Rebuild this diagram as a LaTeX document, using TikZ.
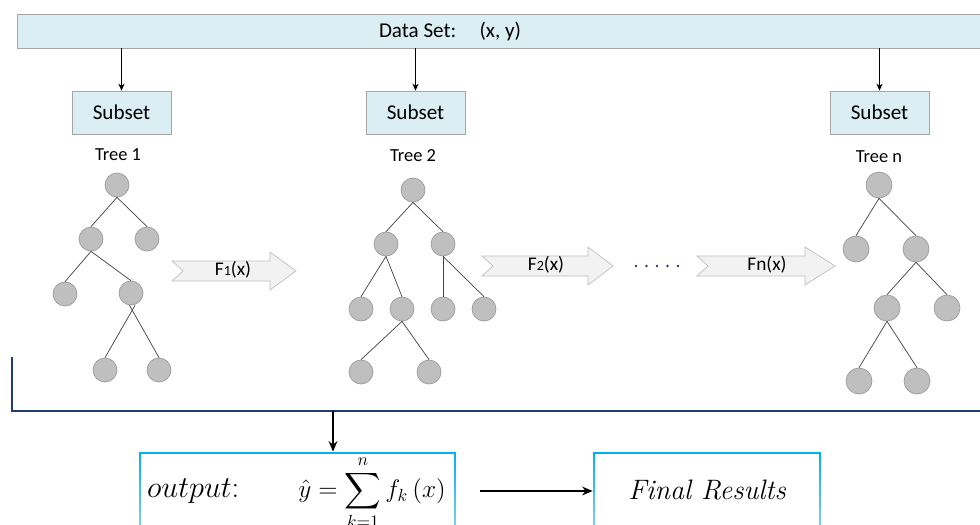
\documentclass[tikz,border=0pt]{standalone}
\usepackage{amsmath}
\usepackage{fontspec}
\newfontfamily\calibri{Carlito}
\usetikzlibrary{arrows.meta}

\definecolor{barblue}{HTML}{DAEEF3}
\definecolor{boxgray}{HTML}{A6A6A6}
\definecolor{nodegray}{HTML}{BFBFBF}
\definecolor{nodeline}{HTML}{9C9C9C}
\definecolor{arrowfill}{HTML}{F2F2F2}
\definecolor{arrowline}{HTML}{BFBFBF}
\definecolor{navy}{HTML}{1F3B7A}
\definecolor{cyanline}{HTML}{00B0F0}
\definecolor{cyanpale}{HTML}{B7DDE8}

\tikzset{
  treenode/.style={circle, draw=nodeline, fill=nodegray, inner sep=0pt, minimum size=0.48cm},
  bignode/.style={treenode, minimum size=0.52cm},
  databar/.style={draw=boxgray, fill=barblue, minimum width=19.66cm, minimum height=0.68cm},
  subsetbox/.style={draw=boxgray, fill=barblue, minimum width=1.98cm, minimum height=0.86cm,
    font=\calibri\fontsize{12}{14}\selectfont},
  treelabel/.style={font=\calibri\fontsize{10.5}{12}\selectfont},
  calitext/.style={font=\calibri\fontsize{11}{13}\selectfont},
  edge/.style={draw=black!75, line width=0.4pt},
  feed/.style={-{Stealth[length=4pt,width=3.5pt]}, line width=0.4pt},
  bigarrow/.style={-{Stealth[length=6pt,width=5pt]}, line width=0.9pt},
  blockarrow/.style={draw=arrowline, fill=arrowfill, line width=0.4pt},
  resultbox/.style={minimum height=2.16cm, inner sep=0pt,
    path picture={
      \shade[top color=cyanline, bottom color=cyanpale]
        (path picture bounding box.south west) rectangle (path picture bounding box.north east);
      \fill[white]
        ([shift={(1.3pt,-1.3pt)}]path picture bounding box.north west) rectangle
        ([shift={(-1.3pt,1.3pt)}]path picture bounding box.south east);
    }},
}

% block arrow: tail x, head x, tip x, middle y
\newcommand{\blockarr}[4]{%
  \draw[blockarrow] (#1,#4-10) -- (#2,#4-10) -- (#2,#4-19) -- (#3,#4)
    -- (#2,#4+19) -- (#2,#4+10) -- (#1,#4+10) -- (#1+11,#4) -- cycle;}

\begin{document}
\begin{tikzpicture}[x=0.02cm, y=-0.02cm]
        \useasboundingbox (0,0) rectangle (980,524);
        \clip (0,0) rectangle (980,524);

        % data set bar on top
        \node[databar] (bar) at (508.5,31) {};
        \node[font=\calibri\fontsize{12}{14}\selectfont] (bartext) at (450,31) {Data Set:\hspace{1.1em}(x, y)};

        % subsets
        \node[subsetbox] (sub1) at (121.5,112.5) {Subset};
        \node[subsetbox] (sub2) at (415.5,112.5) {Subset};
        \node[subsetbox] (subn) at (879.5,112.5) {Subset};

        \draw[feed] (bar.south -| sub1) -- (sub1.north);
        \draw[feed] (bar.south -| sub2) -- (sub2.north);
        \draw[feed] (bar.south -| subn) -- (subn.north);

        % tree labels
        \node[treelabel] (tree1) at (118,155) {Tree 1};
        \node[treelabel] (tree2) at (413,156) {Tree 2};
        \node[treelabel] (treen) at (879,157) {Tree n};

        % tree 1
        \node[treenode] (t1root) at (117,185) {};
        \node[treenode] (t1l) at (91,239) {};
        \node[treenode] (t1r) at (147,239) {};
        \node[treenode] (t1ll) at (65,294) {};
        \node[treenode] (t1lr) at (131,293) {};
        \node[treenode] (t1lrl) at (105,370) {};
        \node[treenode] (t1lrr) at (159,370) {};

        \draw[edge] (t1root.south) -- (t1l.north);
        \draw[edge] (t1root.south) -- (t1r.north);
        \draw[edge] (t1l.south) -- (t1ll.north);
        \draw[edge] (t1l.south) -- (t1lr.north);
        \draw[edge] ([xshift=0.08cm]t1lr.south) -- (t1lrl.north);
        \draw[edge] ([xshift=-0.03cm]t1lr.south) -- (t1lrr.north);

        % tree 2
        \node[treenode] (t2root) at (413,190) {};
        \node[treenode] (t2l) at (386,244) {};
        \node[treenode] (t2r) at (443,244) {};
        \node[treenode] (t2ll) at (361,309) {};
        \node[treenode] (t2lr) at (402,309) {};
        \node[treenode] (t2rl) at (443,309) {};
        \node[treenode] (t2rr) at (484,309) {};
        \node[treenode] (t2lrl) at (361,372) {};
        \node[treenode] (t2lrr) at (429,372) {};

        \draw[edge] (t2root.south) -- (t2l.north);
        \draw[edge] (t2root.south) -- (t2r.north);
        \draw[edge] (t2l.south) -- (t2ll.north);
        \draw[edge] (t2l.south) -- (t2lr.north);
        \draw[edge] (t2r.south) -- (t2rl.north);
        \draw[edge] (t2r.south) -- (t2rr.north);
        \draw[edge] (t2lr.south) -- (t2lrl.north);
        \draw[edge] (t2lr.south) -- (t2lrr.north);

        % tree n
        \node[bignode] (tnroot) at (879,185) {};
        \node[bignode] (tnl) at (856,249) {};
        \node[bignode] (tnr) at (916,249) {};
        \node[bignode] (tnrl) at (887,308) {};
        \node[bignode] (tnrr) at (947,308) {};
        \node[bignode] (tnrll) at (859,381) {};
        \node[bignode] (tnrlr) at (917,381) {};

        \draw[edge] (tnroot.south) -- (tnl.north);
        \draw[edge] (tnroot.south) -- (tnr.north);
        \draw[edge] (tnr.south) -- (tnrl.north);
        \draw[edge] (tnr.south) -- (tnrr.north);
        \draw[edge] (tnrl.south) -- (tnrll.north);
        \draw[edge] (tnrl.south) -- (tnrlr.north);

        % block arrows between trees
        \blockarr{172}{270}{296}{271}
        \node[calitext] (f1) at (233,270) {F{\footnotesize 1}(x)};
        \blockarr{482}{588}{613}{266}
        \node[calitext] (f2) at (546,265) {F{\footnotesize 2}(x)};
        \foreach \x in {636,646.5,657,667.5,678}
          \fill[navy] (\x,266) circle (0.8pt);
        \blockarr{697}{805}{835}{266}
        \node[calitext] (fn) at (767,265) {Fn(x)};

        % bracket collecting all trees
        \draw[navy, line width=1.1pt] (12,357) -- (12,411) -- (1000,411);
        \coordinate (merge) at (333,411);

        % output and final results
        \node[resultbox, minimum width=6.34cm] (outbox) at (297.5,506) {};
        \node[resultbox, minimum width=4.56cm] (finalbox) at (707,506) {};

        \node[anchor=west, font=\fontsize{16}{19}\selectfont] (outlabel) at (141,491) {$output{:}$};
        \node[font=\fontsize{14.5}{17}\selectfont] (sumform) at (372,493) {$\hat{y} = \displaystyle\sum_{k=1}^{n} f_k\,(x)$};
        \node[font=\fontsize{16}{19}\selectfont\itshape] (finaltext) at (707,490) {Final Results};

        \draw[bigarrow] (merge) -- (merge |- outbox.north);
        \coordinate (sumend) at (480,491);
        \draw[bigarrow] (sumend) -- (sumend -| finalbox.west);
\end{tikzpicture}
\end{document}
